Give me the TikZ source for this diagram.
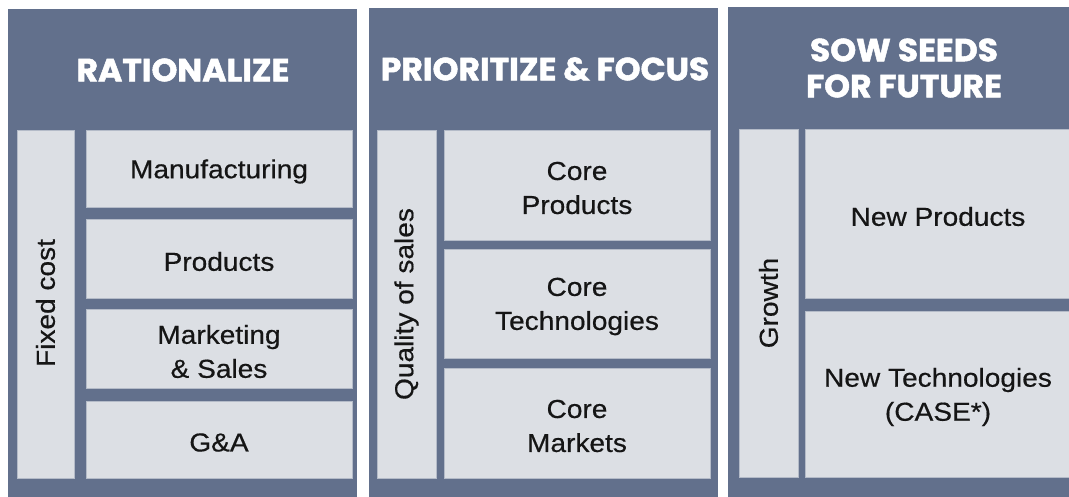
\documentclass[tikz,border=0pt]{standalone}
\usepackage{fontspec}
\setmainfont[FakeStretch=1.08, FakeBold=0.5]{Liberation Sans}
\newfontfamily\headfont[FakeBold=1.6, FakeStretch=1.03]{Poppins}
\definecolor{slate}{HTML}{62708C}
\definecolor{cellfill}{HTML}{DCDFE4}
\definecolor{cellline}{HTML}{B4BBC8}
\definecolor{ink}{HTML}{151515}
\tikzset{
  panel/.style={fill=slate, draw=none},
  cell/.style={fill=cellfill, draw=cellline, line width=0.6pt, inner sep=0pt},
  celltext/.style={align=center, text=ink, inner sep=0pt, yshift=-3pt,
    font=\fontsize{26}{34}\selectfont},
  vtext/.style={align=center, text=ink, inner sep=0pt, rotate=90,
    font=\fontsize{26}{34}\selectfont},
  headtext/.style={text=white, align=center, inner sep=0pt,
    font=\headfont\bfseries\fontsize{32}{36}\selectfont}
}
\begin{document}
\begin{tikzpicture}[x=1pt, y=-1pt]
\useasboundingbox (0,0) rectangle (1069,496);
\fill[white] (0,0) rectangle (1069,496);
% panels
\path[panel] (8,9) rectangle (357,500);
\path[panel] (369,8) rectangle (718,500);
\path[panel] (728,7) rectangle (1080,500);
% headings
\node[headtext] (h1) at (183,70) {RATIONALIZE};
\node[headtext] (h2) at (545,69) {PRIORITIZE \& FOCUS};
\node[headtext] (h3) at (904,68) {SOW SEEDS\\FOR FUTURE};
% panel 1
\node[cell, minimum width=57pt, minimum height=348pt] (fixed) at (45.5,304) {};
\node[vtext] (fixedt) at ([yshift=1pt]fixed.center) {Fixed cost};
\node[cell, minimum width=266pt, minimum height=77pt] (manu) at (219,168.5) {};
\node[celltext] (manut) at (manu.center) {Manufacturing};
\node[cell, minimum width=266pt, minimum height=79pt] (prod) at (219,258.5) {};
\node[celltext] (prodt) at (prod.center) {Products};
\node[cell, minimum width=266pt, minimum height=79pt] (mkt) at (219,348.5) {};
\node[celltext] (mktt) at (mkt.center) {Marketing\\\& Sales};
\node[cell, minimum width=266pt, minimum height=77pt] (ga) at (219,439.5) {};
\node[celltext] (gat) at (ga.center) {G\&A};
% panel 2
\node[cell, minimum width=59pt, minimum height=348pt] (qual) at (406.5,304) {};
\node[vtext] (qualt) at (qual.center) {Quality of sales};
\node[cell, minimum width=266pt, minimum height=110pt] (cprod) at (577,185) {};
\node[celltext] (cprodt) at (cprod.center) {Core\\Products};
\node[cell, minimum width=266pt, minimum height=109pt] (ctech) at (577,303.5) {};
\node[celltext] (ctecht) at (ctech.center) {Core\\Technologies};
\node[cell, minimum width=266pt, minimum height=110pt] (cmkt) at (577,423) {};
\node[celltext] (cmktt) at (cmkt.center) {Core\\Markets};
% panel 3
\node[cell, minimum width=59pt, minimum height=348pt] (growth) at (768.5,303) {};
\node[vtext] (growtht) at (growth.center) {Growth};
\node[cell, minimum width=266pt, minimum height=169pt] (nprod) at (938,213.5) {};
\node[celltext] (nprodt) at (nprod.center) {New Products};
\node[cell, minimum width=266pt, minimum height=166pt] (ntech) at (938,394) {};
\node[celltext] (ntecht) at (ntech.center) {New Technologies\\(CASE*)};
\end{tikzpicture}
\end{document}
